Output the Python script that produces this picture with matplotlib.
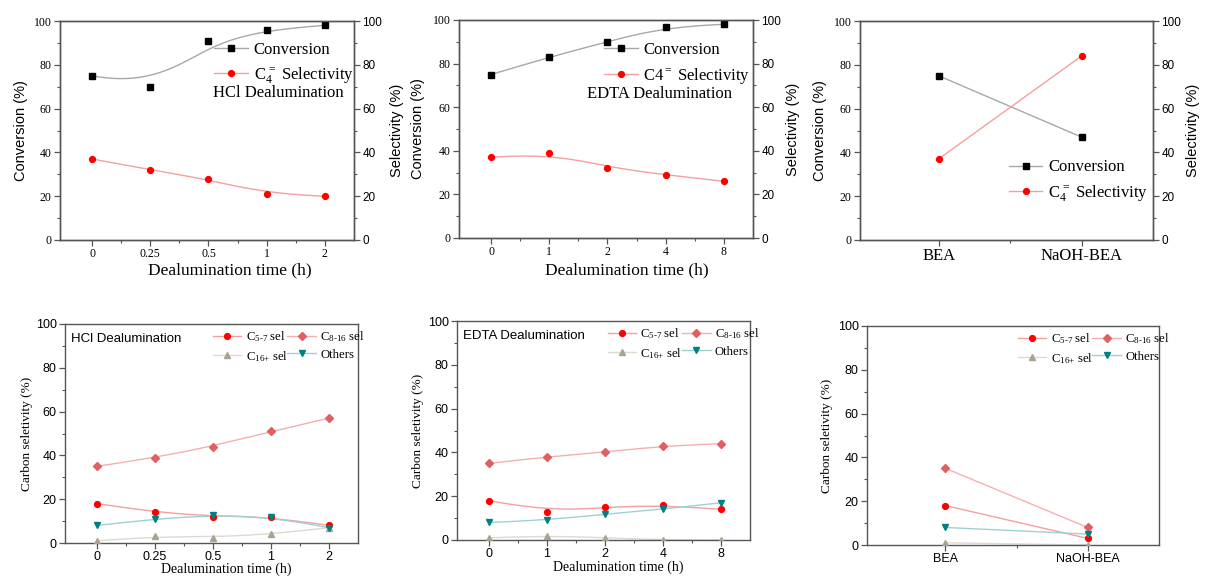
import numpy as np
import matplotlib
matplotlib.use("Agg")
import matplotlib.pyplot as plt
from matplotlib.ticker import MultipleLocator, FixedLocator

plt.rcParams["mathtext.fontset"] = "custom"
plt.rcParams["mathtext.rm"] = "Liberation Serif"
plt.rcParams["mathtext.it"] = "Liberation Serif:italic"
plt.rcParams["mathtext.bf"] = "Liberation Serif:bold"

# ---------------- data ----------------
hcl_times = ["0", "0.25", "0.5", "1", "2"]
hcl_conversion = [75, 70, 91, 96, 98]
hcl_c4_sel = [37, 32, 28, 21, 20]

edta_times = ["0", "1", "2", "4", "8"]
edta_conversion = [75, 83, 90, 97, 98]
edta_c4_sel = [37, 39, 32, 29, 26]

naoh_samples = ["BEA", "NaOH-BEA"]
naoh_conversion = [75, 47]
naoh_c4_sel = [37, 84]

hcl_c57 = [18, 14, 12, 12, 8]
hcl_c816 = [35, 39, 44, 51, 57]
hcl_c16p = [1, 3, 2.5, 4, 7]
hcl_others = [8, 11, 13, 12, 7]

edta_c57 = [18, 13, 15, 16, 14]
edta_c816 = [35, 38, 40, 43, 44]
edta_c16p = [1, 2, 1, 0, 0]
edta_others = [8, 9, 12, 14, 17]

naoh_c57 = [18, 3]
naoh_c816 = [35, 8]
naoh_c16p = [1, 0]
naoh_others = [8, 5]

SERIF = "Liberation Serif"
SANS = "Liberation Sans"
AXCOL = "#555555"


def bspline(xs, ys, n=200):
    """Clamped cubic B-spline using the points as control points (Origin style)."""
    P = np.column_stack([xs, ys]).astype(float)
    m = len(P)
    if m < 4:
        return P[:, 0], P[:, 1]
    k = 3
    inner = np.linspace(0, 1, m - k + 1)[1:-1]
    knots = np.concatenate([[0] * (k + 1), inner, [1] * (k + 1)])
    t = np.linspace(0, 1, n)
    t[-1] = 1 - 1e-10

    def N(i, p, tt):
        if p == 0:
            return ((knots[i] <= tt) & (tt < knots[i + 1])).astype(float)
        d1 = knots[i + p] - knots[i]
        d2 = knots[i + p + 1] - knots[i + 1]
        out = np.zeros_like(tt)
        if d1 > 0:
            out += (tt - knots[i]) / d1 * N(i, p - 1, tt)
        if d2 > 0:
            out += (knots[i + p + 1] - tt) / d2 * N(i + 1, p - 1, tt)
        return out

    B = np.column_stack([N(i, k, t) for i in range(m)])
    C = B @ P
    return C[:, 0], C[:, 1]


def style_axis(ax, tick_font, tick_size):
    for s in ax.spines.values():
        s.set_color(AXCOL)
        s.set_linewidth(1.0)
    ax.tick_params(axis="both", which="major", direction="out", length=4,
                   width=0.9, color=AXCOL, labelsize=tick_size, pad=2)
    ax.tick_params(axis="both", which="minor", direction="out", length=2,
                   width=0.8, color=AXCOL)
    for lab in ax.get_xticklabels() + ax.get_yticklabels():
        lab.set_fontfamily(tick_font)


def series(ax, x, y, line_color, marker, mcolor, ms, label, smooth=True):
    if smooth and len(x) > 2:
        sx, sy = bspline(x, y)
    else:
        sx, sy = x, y
    ax.plot(sx, sy, color=line_color, lw=1.0, zorder=2)
    ax.plot(x, y, ls="none", marker=marker, color=mcolor, ms=ms, zorder=3)
    h, = ax.plot([], [], color=line_color, lw=1.0, marker=marker,
                 mfc=mcolor, mec=mcolor, ms=ms, label=label)
    return h


fig = plt.figure(figsize=(12.05, 5.77), dpi=100)
W, H = 1205.0, 577.0


def add_axes(l, r, t, b):
    return fig.add_axes([l / W, (H - b) / H, (r - l) / W, (b - t) / H])


C4_SUB = r"$\mathrm{C}_{4}^{\,=}$ Selectivity"
C4_PLAIN = r"C4$^{=}$ Selectivity"

# ---------------- top panels ----------------
top_specs = [
    dict(box=(60, 354, 21, 240), cats=hcl_times, conv=hcl_conversion,
         sel=hcl_c4_sel, sel_label=C4_SUB,
         note="HCl Dealumination", xlabel="Dealumination time (h)",
         leg=(0.525, 0.905), note_xy=(0.52, 0.672), xl=(0.578, -0.14),
         yl=(-0.131, 1.146), smooth=True, catsize=8.5),
    dict(box=(459, 753, 20, 238), cats=edta_times, conv=edta_conversion,
         sel=edta_c4_sel, sel_label=C4_PLAIN,
         note="EDTA Dealumination", xlabel="Dealumination time (h)",
         leg=(0.494, 0.898), note_xy=(0.435, 0.66), xl=(0.571, -0.148),
         yl=(-0.139, 1.136), smooth=True, catsize=8.5),
    dict(box=(860, 1153, 21, 240), cats=naoh_samples, conv=naoh_conversion,
         sel=naoh_c4_sel, sel_label=C4_SUB,
         note=None, xlabel=None,
         leg=(0.508, 0.368), note_xy=None, xl=None,
         yl=(-0.137, 1.137), smooth=False, catsize=12),
]

for sp in top_specs:
    ax = add_axes(*sp["box"])
    ax2 = ax.twinx()
    x = np.arange(len(sp["cats"]))
    h1 = series(ax, x, sp["conv"], "#a8a8a8", "s", "black", 4.0,
                "Conversion", sp["smooth"])
    h2 = series(ax2, x, sp["sel"], "#f4a0a0", "o", "red", 4.2,
                sp["sel_label"], sp["smooth"])
    for a in (ax, ax2):
        a.set_xlim(-0.55, len(x) - 0.5)
        a.set_ylim(0, 100)
        a.yaxis.set_major_locator(MultipleLocator(20))
        a.yaxis.set_minor_locator(MultipleLocator(10))
    ax.set_xticks(x)
    ax.set_xticklabels(sp["cats"])
    ax.xaxis.set_minor_locator(FixedLocator(np.arange(len(x) - 1) + 0.5))
    style_axis(ax, SERIF, 8.5)
    style_axis(ax2, SANS, 8.5)
    for lab in ax.get_xticklabels():
        lab.set_fontsize(sp["catsize"])
    ax.set_ylabel("Conversion (%)", fontfamily=SANS, fontsize=10.5, va="center")
    ax.yaxis.set_label_coords(sp["yl"][0], 0.5)
    ax2.set_ylabel("Selectivity (%)", fontfamily=SANS, fontsize=10.5,
                   va="center", rotation=90)
    ax2.yaxis.set_label_coords(sp["yl"][1], 0.5)
    if sp["xlabel"]:
        ax.set_xlabel(sp["xlabel"], fontfamily=SERIF, fontsize=12.5, va="center")
        ax.xaxis.set_label_coords(*sp["xl"])
    ax2.legend(handles=[h1, h2], loc="upper left",
               bbox_to_anchor=sp["leg"], frameon=False, numpoints=1,
               prop=dict(family=SERIF, size=12), handlelength=2.0,
               handletextpad=0.35, borderpad=0, borderaxespad=0,
               labelspacing=0.45)
    if sp["note"]:
        ax2.text(sp["note_xy"][0], sp["note_xy"][1], sp["note"],
                 transform=ax2.transAxes, fontfamily=SERIF, fontsize=12,
                 ha="left", va="center")

# ---------------- bottom panels ----------------
bot_specs = [
    dict(box=(65, 358, 324, 543), cats=hcl_times,
         vals=(hcl_c57, hcl_c816, hcl_c16p, hcl_others),
         title="HCl Dealumination", xlabel="Dealumination time (h)",
         leg=(0.505, 0.975), xl=(0.55, -0.12), ylx=-0.13, smooth=True),
    dict(box=(457, 750, 321, 540), cats=edta_times,
         vals=(edta_c57, edta_c816, edta_c16p, edta_others),
         title="EDTA Dealumination", xlabel="Dealumination time (h)",
         leg=(0.515, 0.975), xl=(0.55, -0.123), ylx=-0.133, smooth=True),
    dict(box=(867, 1159, 326, 545), cats=naoh_samples,
         vals=(naoh_c57, naoh_c816, naoh_c16p, naoh_others),
         title=None, xlabel=None,
         leg=(0.517, 0.975), xl=None, ylx=-0.137, smooth=False),
]

for sp in bot_specs:
    ax = add_axes(*sp["box"])
    x = np.arange(len(sp["cats"]))
    c57, c816, c16p, oth = sp["vals"]
    ha = series(ax, x, c57, "#f4a0a0", "o", "red", 4.2,
                r"$\mathrm{C}_{\text{5-7}}$ sel", sp["smooth"])
    hb = series(ax, x, c816, "#f4b0b0", "D", "#e06060", 3.6,
                r"$\mathrm{C}_{\text{8-16}}$ sel", sp["smooth"])
    hc = series(ax, x, c16p, "#dcdad2", "^", "#a8a290", 4.2,
                r"$\mathrm{C}_{\text{16+}}$ sel", sp["smooth"])
    hd = series(ax, x, oth, "#9ed2d2", "v", "#008080", 4.2,
                "Others", sp["smooth"])
    ax.set_xlim(-0.55, len(x) - 0.5)
    ax.set_ylim(0, 100)
    ax.yaxis.set_major_locator(MultipleLocator(20))
    ax.yaxis.set_minor_locator(MultipleLocator(10))
    ax.set_xticks(x)
    ax.set_xticklabels(sp["cats"])
    ax.xaxis.set_minor_locator(FixedLocator(np.arange(len(x) - 1) + 0.5))
    style_axis(ax, SANS, 9)
    ax.set_ylabel("Carbon seletivity (%)", fontfamily=SERIF, fontsize=9.5,
                  va="center")
    ax.yaxis.set_label_coords(sp["ylx"], 0.5)
    if sp["xlabel"]:
        ax.set_xlabel(sp["xlabel"], fontfamily=SERIF, fontsize=10, va="center")
        ax.xaxis.set_label_coords(*sp["xl"])
    if sp["title"]:
        ax.text(0.02, 0.93, sp["title"], transform=ax.transAxes,
                fontfamily=SANS, fontsize=9.5, ha="left", va="center")
    ax.legend(handles=[ha, hc, hb, hd], loc="upper left",
              bbox_to_anchor=sp["leg"], frameon=False, numpoints=1, ncol=2,
              prop=dict(family=SERIF, size=9.2), handlelength=2.2,
              handletextpad=0.35, borderpad=0, borderaxespad=0,
              columnspacing=0.0, labelspacing=0.35)

fig.savefig("out.png", dpi=100, facecolor="white")
